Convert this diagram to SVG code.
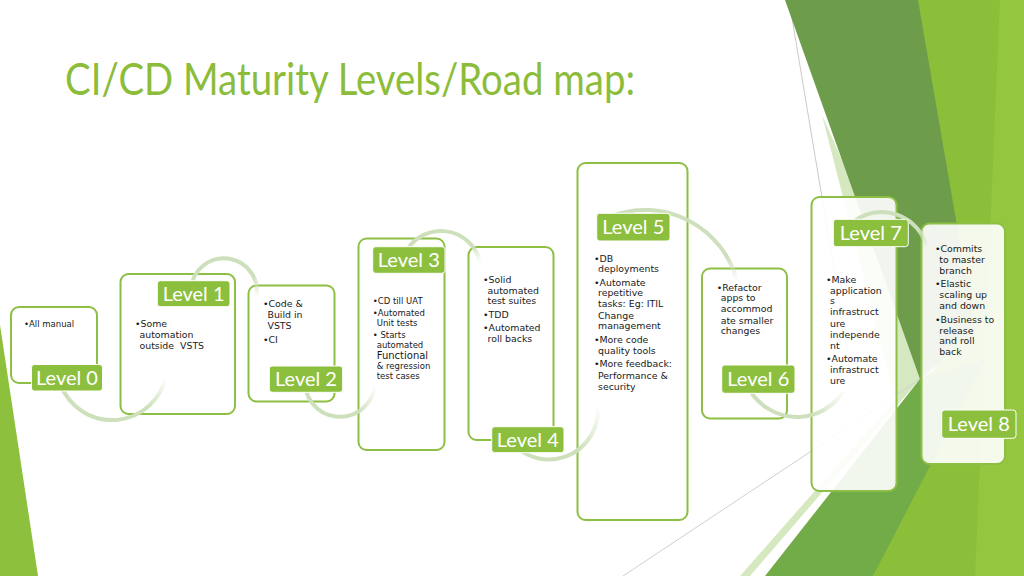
<svg xmlns="http://www.w3.org/2000/svg" width="1024" height="576" viewBox="0 0 1024 576">
<style>
.box{fill:#ffffff;stroke:#8dbf45;stroke-width:2}
.boxt{fill:#ffffff;fill-opacity:0.9;stroke:#8dbf45;stroke-width:2}
.lab{fill:#8dbf3f;stroke:#ffffff;stroke-width:1}
.labt{font-family:Lato,"DejaVu Sans",sans-serif;font-size:20px;fill:#ffffff;text-anchor:middle}
.txt{font-family:"DejaVu Sans","Liberation Sans",sans-serif;font-size:9.4px;fill:#1a1a1a}
.sm{font-size:8.5px}
.arc{fill:none;stroke-width:4}
</style>
<defs>
<linearGradient id="g01" gradientUnits="userSpaceOnUse" x1="145" y1="405" x2="166" y2="378"><stop offset="0" stop-color="#cde0bb"/><stop offset="1" stop-color="#cde0bb" stop-opacity="0"/></linearGradient>
<linearGradient id="g12" gradientUnits="userSpaceOnUse" x1="246" y1="282" x2="257" y2="298"><stop offset="0" stop-color="#cde0bb"/><stop offset="1" stop-color="#cde0bb" stop-opacity="0"/></linearGradient>
<linearGradient id="g23" gradientUnits="userSpaceOnUse" x1="356" y1="412" x2="375" y2="386"><stop offset="0" stop-color="#cde0bb"/><stop offset="1" stop-color="#cde0bb" stop-opacity="0"/></linearGradient>
<linearGradient id="g34" gradientUnits="userSpaceOnUse" x1="470" y1="246" x2="481" y2="262"><stop offset="0" stop-color="#cde0bb"/><stop offset="1" stop-color="#cde0bb" stop-opacity="0"/></linearGradient>
<linearGradient id="g45" gradientUnits="userSpaceOnUse" x1="578" y1="450" x2="597" y2="405"><stop offset="0" stop-color="#cde0bb"/><stop offset="1" stop-color="#cde0bb" stop-opacity="0"/></linearGradient>
<linearGradient id="g56" gradientUnits="userSpaceOnUse" x1="728" y1="258" x2="737" y2="280"><stop offset="0" stop-color="#cde0bb"/><stop offset="1" stop-color="#cde0bb" stop-opacity="0"/></linearGradient>
<linearGradient id="g67" gradientUnits="userSpaceOnUse" x1="812" y1="415" x2="845" y2="390"><stop offset="0" stop-color="#cde0bb"/><stop offset="1" stop-color="#cde0bb" stop-opacity="0"/></linearGradient>
<linearGradient id="g78" gradientUnits="userSpaceOnUse" x1="918" y1="232" x2="927" y2="248"><stop offset="0" stop-color="#cde0bb"/><stop offset="1" stop-color="#cde0bb" stop-opacity="0"/></linearGradient>
</defs>
<rect width="1024" height="576" fill="#ffffff"/>
<g id="background">
<polygon points="0,325 38,576 0,576" fill="#8dc03c"/>
<polygon points="900,0 1024,0 1024,576 873,576 920,379" fill="#8bbf39"/>
<polygon points="1000,0 1024,0 1024,576 975,576" fill="#94c640"/>
<polygon points="822,115 935,370 920,379 750,576 740,576 895,400" fill="#d6e8c0"/>
<line x1="789" y1="0" x2="850" y2="365" stroke="#c9c9c9" stroke-width="1"/>
<line x1="623" y1="576" x2="920" y2="379" stroke="#cfcfcf" stroke-width="1"/>
<polygon points="785,0 918,0 975,330 920,379" fill="#6d9c4a"/>
<polygon points="920,379 985,360 873,576 765,576" fill="#72ac48"/>
</g>
<g id="level0"><rect class="box" x="11" y="307" width="86" height="76" rx="8"/></g>
<g id="level1"><rect class="box" x="120.5" y="274" width="114.5" height="140" rx="8"/></g>
<g id="level2"><rect class="box" x="248.5" y="285.5" width="86" height="116" rx="8"/></g>
<g id="level3"><rect class="box" x="358.5" y="238.5" width="86" height="211.5" rx="8"/></g>
<g id="level4"><rect class="box" x="468.5" y="247" width="85" height="193" rx="8"/></g>
<g id="level5"><rect class="box" x="577.5" y="163" width="110" height="357" rx="8"/></g>
<g id="level6"><rect class="box" x="702" y="268.5" width="85" height="150" rx="8"/></g>
<g id="level7"><rect class="boxt" x="811.5" y="197" width="85" height="294" rx="8"/></g>
<g id="level8"><rect class="boxt" x="921.5" y="223.5" width="83.5" height="240.5" rx="8"/></g>
<g id="connectors">
<path class="arc" stroke="url(#g01)" d="M 60.3 383.8 A 55 55 0 0 0 166.2 374.6"/>
<path class="arc" stroke="url(#g12)" d="M 191.1 288.1 A 33 33 0 1 1 255.9 299.5"/>
<path class="arc" stroke="url(#g23)" d="M 305.5 375.9 A 35 35 0 1 0 375 382"/>
<path class="arc" stroke="url(#g34)" d="M 403.4 257.3 A 40 40 0 0 1 480.4 264.1"/>
<path class="arc" stroke="url(#g45)" d="M 503 427.8 A 49 49 0 0 0 596.3 398.3"/>
<path class="arc" stroke="url(#g56)" d="M 612.5 215.7 A 95 95 0 0 1 736.8 280.4"/>
<path class="arc" stroke="url(#g67)" d="M 745.3 380.8 A 55 55 0 0 0 850.1 376.2"/>
<path class="arc" stroke="url(#g78)" d="M 855.6 220.3 A 46 46 0 0 1 926.4 246.1"/>
</g>
<g id="level0-label"><rect class="lab" x="31.5" y="364.5" width="71" height="26.5" rx="3"/><text class="labt" x="67" y="385">Level 0</text>
<text class="txt sm" x="24" y="327">•All manual</text></g>
<g id="level1-label"><rect class="lab" x="157.3" y="280.7" width="72.7" height="26" rx="3"/><text class="labt" x="193.6" y="301">Level 1</text>
<text class="txt"><tspan x="135" y="327">•Some</tspan><tspan x="139.5" y="338">automation</tspan><tspan x="139.5" y="349" style="white-space:pre">outside  VSTS</tspan></text></g>
<g id="level2-label"><rect class="lab" x="269.3" y="366" width="73.4" height="26.3" rx="3"/><text class="labt" x="306" y="386">Level 2</text>
<text class="txt"><tspan x="263" y="307">•Code &amp;</tspan><tspan x="267.5" y="318">Build in</tspan><tspan x="267.5" y="329">VSTS</tspan><tspan x="263" y="343">•CI</tspan></text></g>
<g id="level3-label"><rect class="lab" x="372.7" y="246.7" width="72.3" height="26.6" rx="3"/><text class="labt" x="408.8" y="267">Level 3</text>
<text class="txt sm"><tspan x="372.7" y="304">•CD till UAT</tspan><tspan x="372.7" y="316">•Automated</tspan><tspan x="376.7" y="326">Unit tests</tspan><tspan x="372.7" y="338">• Starts</tspan><tspan x="376.7" y="348">automated</tspan><tspan x="376.7" y="359" style="font-size:10px">Functional</tspan><tspan x="376.7" y="369">&amp; regression</tspan><tspan x="376.7" y="379">test cases</tspan></text></g>
<g id="level4-label"><rect class="lab" x="491.7" y="426.7" width="72.3" height="26" rx="3"/><text class="labt" x="527.8" y="447">Level 4</text>
<text class="txt"><tspan x="483" y="282.5">•Solid</tspan><tspan x="487.5" y="293.5">automated</tspan><tspan x="487.5" y="304">test suites</tspan><tspan x="483" y="317.5">•TDD</tspan><tspan x="483" y="330.5">•Automated</tspan><tspan x="487.5" y="341.5">roll backs</tspan></text></g>
<g id="level5-label"><rect class="lab" x="596.7" y="213.3" width="73.3" height="27.7" rx="3"/><text class="labt" x="633.3" y="234">Level 5</text>
<text class="txt"><tspan x="594" y="262">•DB</tspan><tspan x="598" y="272">deployments</tspan><tspan x="594" y="285.5">•Automate</tspan><tspan x="598" y="296">repetitive</tspan><tspan x="598" y="306.5">tasks: Eg: ITIL</tspan><tspan x="598" y="318.5">Change</tspan><tspan x="598" y="329">management</tspan><tspan x="594" y="342.5">•More code</tspan><tspan x="598" y="354">quality tools</tspan><tspan x="594" y="366.5">•More feedback:</tspan><tspan x="598" y="378.5">Performance &amp;</tspan><tspan x="598" y="389.5">security</tspan></text></g>
<g id="level6-label"><rect class="lab" x="721.7" y="365" width="73.3" height="28.3" rx="3"/><text class="labt" x="758.3" y="386">Level 6</text>
<text class="txt"><tspan x="716.7" y="291">•Refactor</tspan><tspan x="720.7" y="301">apps to</tspan><tspan x="720.7" y="312">accommod</tspan><tspan x="720.7" y="323.5">ate smaller</tspan><tspan x="720.7" y="334">changes</tspan></text></g>
<g id="level7-label"><rect class="lab" x="833.3" y="219.3" width="75" height="27.4" rx="3"/><text class="labt" x="870.8" y="240">Level 7</text>
<text class="txt"><tspan x="826" y="283">•Make</tspan><tspan x="830" y="293.5">application</tspan><tspan x="830" y="304">s</tspan><tspan x="830" y="315">infrastruct</tspan><tspan x="830" y="327">ure</tspan><tspan x="830" y="337.5">independe</tspan><tspan x="830" y="348.5">nt</tspan><tspan x="826" y="362">•Automate</tspan><tspan x="830" y="373">infrastruct</tspan><tspan x="830" y="384">ure</tspan></text></g>
<g id="level8-label"><rect class="lab" x="941.7" y="410" width="74.3" height="28.3" rx="3"/><text class="labt" x="978.8" y="431">Level 8</text>
<text class="txt"><tspan x="935" y="252">•Commits</tspan><tspan x="939.3" y="263">to master</tspan><tspan x="939.3" y="273.5">branch</tspan><tspan x="935" y="287">•Elastic</tspan><tspan x="939.3" y="298">scaling up</tspan><tspan x="939.3" y="309">and down</tspan><tspan x="935" y="322.5">•Business to</tspan><tspan x="939.3" y="333.5">release</tspan><tspan x="939.3" y="344">and roll</tspan><tspan x="939.3" y="355">back</tspan></text></g>
<text id="title" x="65" y="95" font-family="Lato,'DejaVu Sans',sans-serif" font-size="44" fill="#8cbd3a" textLength="570" lengthAdjust="spacingAndGlyphs">CI/CD Maturity Levels/Road map:</text>
</svg>
